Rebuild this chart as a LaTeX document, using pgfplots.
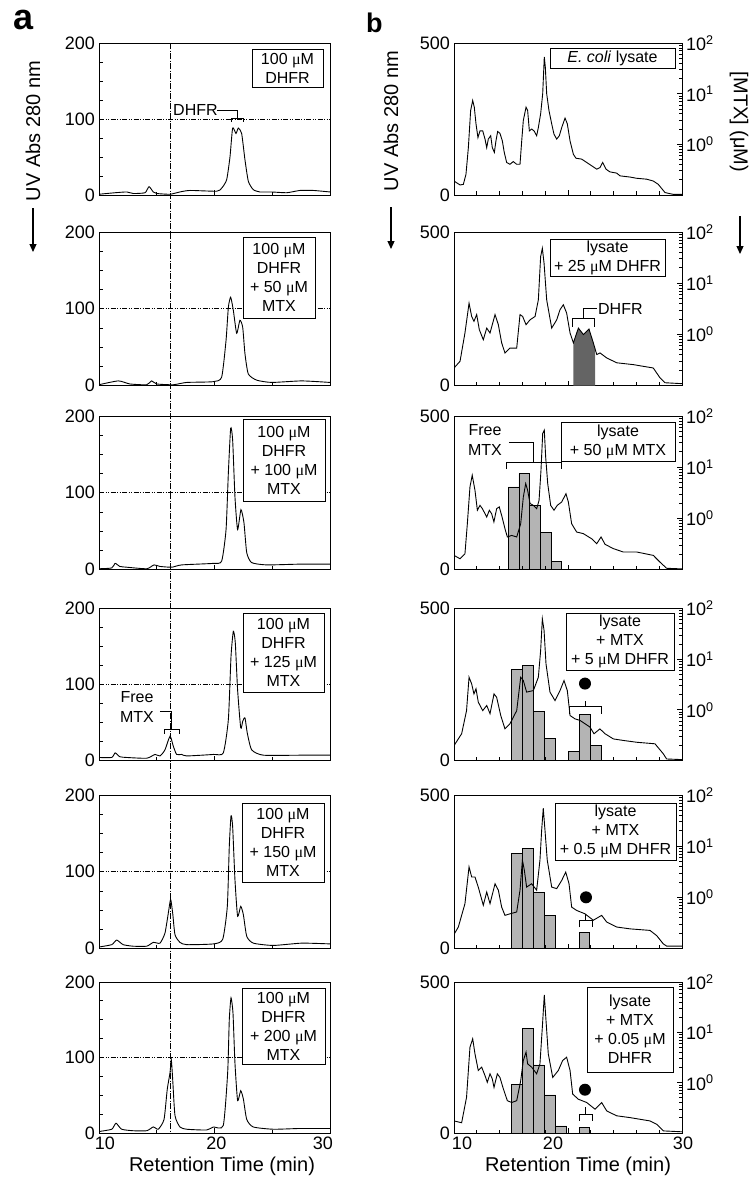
\documentclass[border=0pt]{standalone}
\usepackage{pgfplots}
\pgfplotsset{compat=1.18}
\usepackage{fontspec}
\setmainfont{Liberation Sans}
\newfontfamily\serifmu{Liberation Serif}
\usetikzlibrary{arrows.meta}
\newcommand{\mum}{{\serifmu μ}M}
\newcommand{\ann}{\fontsize{16}{20}\selectfont}
\definecolor{barfill}{RGB}{180,180,180}
\definecolor{dhfrgray}{RGB}{100,100,100}
\pgfplotsset{
  base/.style={scale only axis, xmin=10, xmax=30, anchor=north west, tick align=inside,
    axis line style={line width=0.9pt}, every tick/.style={black,line width=0.8pt},
    major tick length=5pt, minor tick length=3.5pt,
    tick label style={font=\fontsize{18}{18}\selectfont, inner sep=2pt},
    yticklabel style={inner sep=4pt},
    xtick pos=bottom},
  lp/.style={base, width=231pt, ymin=0, ymax=200, xtick={10,20,30}, minor xtick={15,25},
    xticklabels={,,}, ytick={0,100,200}, yticklabels={0,100,200},
    minor ytick={25,50,75,125,150,175}, ytick pos=left},
  rp/.style={base, width=228pt, ymin=0, ymax=500, xtick={10,20,30}, minor xtick={12,14,16,18,22,24,26,28},
    xticklabels={,,}, ytick={0,500}, yticklabels={0,500}, ytick pos=left, ytick style={draw=none}},
  rlog/.style={base, width=228pt, ymin=0.1, ymax=100, log origin y=infty, xtick=\empty,
    ytick pos=right, ytick={1,10,100},
    yticklabels={10\textsuperscript{0},10\textsuperscript{1},10\textsuperscript{2}},
    minor ytick={0.2,0.3,0.4,0.5,0.6,0.7,0.8,0.9,2,3,4,5,6,7,8,9,20,30,40,50,60,70,80,90},
    yticklabel style={inner sep=4pt}},
  trace/.style={black, line width=0.9pt, no marks},
  ltrace/.style={black, line width=0.9pt, no marks, smooth, tension=0.35},
  bars/.style={ybar interval, fill=barfill, draw=black, line width=0.8pt},
}
\tikzset{
  hl/.style={line width=0.6pt, dash pattern=on 5pt off 1.5pt on 1pt off 1.5pt on 1pt off 1.5pt},
  vl/.style={line width=0.6pt, dash pattern=on 6pt off 1.5pt on 1pt off 1.5pt},
  br/.style={line width=0.7pt},
  box/.style={draw, fill=white, line width=0.9pt, align=center, inner sep=1pt, font=\fontsize{16}{19}\selectfont},
}
\begin{document}
\begin{tikzpicture}
\path[use as bounding box] (0pt,0pt) rectangle (750pt,-1179pt);

% ---------------- column a ----------------
\begin{axis}[lp, at={(99pt,-43pt)}, height=152pt]
\draw[hl] (axis cs:10,100) -- (axis cs:30,100);
\addplot[ltrace] coordinates {(10,1)(11.4,3)(12.4,4)(12.97,2)(13.98,3)(14.33,11)(14.7,4)(14.99,2)(16.15,1)(17.0,4)(17.88,6)(20.19,5)(20.62,9)(21.05,20)(21.34,50)(21.57,88)(21.86,81)(22.06,88)(22.35,81)(22.64,46)(22.93,18)(23.36,7)(23.94,4)(24.95,4)(26.25,3)(27.4,6)(28.55,6)(30,4)};
\coordinate (vtop) at (axis cs:16.2,200);
\node[anchor=west, font=\ann, inner sep=0] at (axis cs:16.41,111.9) {DHFR};
\draw[br] (axis cs:20.22,111.9) -- (axis cs:21.95,111.9) -- (axis cs:21.95,101.3);
\draw[br] (axis cs:21.43,96) -- (axis cs:21.43,101.3) -- (axis cs:22.47,101.3) -- (axis cs:22.47,96);
\end{axis}

\begin{axis}[lp, at={(99pt,-232pt)}, height=153.5pt]
\draw[hl] (axis cs:10,100) -- (axis cs:30,100);
\addplot[ltrace] coordinates {(10,1)(11.67,6)(12.68,2)(14.13,1)(14.56,6)(15.0,2)(16.43,1)(17.59,4)(19.9,5)(20.62,11)(21.0,59)(21.2,102)(21.4,115)(21.63,98)(21.92,68)(22.2,85)(22.44,76)(22.64,41)(22.93,15)(23.65,7)(24.95,4)(27.55,6)(30,4)};
\end{axis}

\begin{axis}[lp, at={(99pt,-416pt)}, height=153.5pt]
\draw[hl] (axis cs:10,100) -- (axis cs:30,100);
\addplot[ltrace] coordinates {(10,1)(11.1,2)(11.4,8)(11.8,4)(12.4,3)(14.13,1)(14.76,6)(15.28,4)(16.3,3)(17.16,6)(19.9,8)(20.62,11)(21.0,52)(21.2,126)(21.4,184)(21.57,169)(21.77,95)(22.0,52)(22.29,78)(22.55,61)(22.79,22)(23.22,9)(24.52,6)(27.4,7)(30,7)};
\end{axis}

\begin{axis}[lp, at={(99pt,-608.5pt)}, height=152pt]
\draw[hl] (axis cs:10,100) -- (axis cs:30,100);
\addplot[ltrace] coordinates {(10,4)(11.1,4)(11.4,10)(11.8,5)(12.4,4)(14.13,3)(14.85,8)(15.28,6)(15.71,14)(16.15,32)(16.43,19)(16.72,8)(17.16,8)(17.59,6)(19.9,8)(20.76,10)(21.2,54)(21.43,137)(21.63,170)(21.8,155)(22.0,93)(22.27,43)(22.45,52)(22.64,56)(22.84,36)(23.22,14)(24.23,7)(27.4,7)(30,7)};
\node[align=center, font=\ann] at (axis cs:13.29,71) {Free\\MTX};
\draw[br] (axis cs:15.28,64.5) -- (axis cs:16.23,64.5) -- (axis cs:16.23,40.8);
\draw[br] (axis cs:15.63,35.5) -- (axis cs:15.63,40.8) -- (axis cs:16.93,40.8) -- (axis cs:16.93,35.5);
\end{axis}

\begin{axis}[lp, at={(99pt,-795pt)}, height=153.5pt]
\draw[hl] (axis cs:10,100) -- (axis cs:30,100);
\addplot[ltrace] coordinates {(10,2)(11.1,5)(11.53,11)(12.1,5)(12.97,3)(14.13,3)(14.7,8)(15.28,7)(15.71,20)(16.0,46)(16.2,64)(16.38,46)(16.58,18)(17.01,8)(17.59,5)(19.9,6)(20.71,12)(21.11,55)(21.28,133)(21.43,173)(21.57,159)(21.77,90)(22.0,42)(22.27,55)(22.5,44)(22.79,16)(23.36,7)(25.09,4)(27.55,7)(30,6)};
\end{axis}

\begin{axis}[lp, at={(99pt,-982pt)}, height=151pt,
  xticklabels={\hspace{12pt}10,\hspace{4pt}20,30\hspace{14pt}\mbox{}}, xticklabel style={yshift=-2pt}]
\draw[hl] (axis cs:10,100) -- (axis cs:30,100);
\addplot[ltrace] coordinates {(10,2)(11.1,5)(11.47,13)(11.96,5)(12.97,3)(14.13,3)(14.7,8)(15.13,5)(15.63,18)(15.91,58)(16.15,80)(16.26,97)(16.38,71)(16.58,23)(17.01,8)(17.59,5)(19.32,4)(19.9,8)(20.76,10)(21.14,80)(21.28,150)(21.43,179)(21.6,159)(21.77,93)(22.0,43)(22.27,56)(22.5,45)(22.79,18)(23.36,8)(25.09,5)(27.4,6)(30,6)};
\coordinate (vbot) at (axis cs:16.2,0);
\end{axis}

% ---------------- column b ----------------
% b1
\begin{axis}[ymode=log, rlog, at={(454pt,-43pt)}, height=152pt]
\addplot[draw=none] coordinates {(10,1)};
\end{axis}
\begin{axis}[rp, at={(454pt,-43pt)}, height=152pt]
\addplot[trace] coordinates {(10,46)(10.53,33)(10.82,35)(11.05,68)(11.26,156)(11.46,278)(11.64,311)(11.78,289)(11.93,234)(12.1,189)(12.28,211)(12.52,211)(12.72,184)(12.87,156)(13.01,184)(13.22,195)(13.36,156)(13.54,140)(13.68,178)(13.83,209)(14.03,203)(14.24,178)(14.41,140)(14.62,107)(14.91,101)(15.2,110)(15.5,101)(15.79,101)(15.94,178)(16.08,245)(16.32,289)(16.46,278)(16.61,211)(16.81,217)(17.02,211)(17.25,195)(17.4,222)(17.6,267)(17.78,333)(17.92,454)(18.01,421)(18.13,333)(18.33,278)(18.57,234)(18.77,200)(19.01,184)(19.24,195)(19.45,222)(19.74,253)(19.94,234)(20.18,178)(20.47,134)(20.7,121)(21.2,118)(21.64,107)(22.08,96)(22.52,85)(22.8,90)(23.04,107)(23.33,85)(23.68,76)(24.27,72)(24.56,63)(25.44,59)(26.02,55)(26.9,52)(27.48,46)(27.92,35)(28.51,8)(29.24,2)(30,2)};
\end{axis}

% b2
\begin{axis}[ymode=log, rlog, at={(454pt,-232pt)}, height=153.5pt]
\addplot[draw=none] coordinates {(10,1)};
\end{axis}
\begin{axis}[rp, at={(454pt,-232pt)}, height=153.5pt]
\addplot[fill=dhfrgray, draw=none] coordinates {(20.47,0)(20.47,139)(20.91,187)(21.35,166)(21.84,184)(22.22,139)(22.37,120)(22.37,0)} -- cycle;
\addplot[trace] coordinates {(10,57)(10.53,79)(10.96,171)(11.32,268)(11.55,225)(11.75,209)(11.99,231)(12.22,182)(12.57,149)(12.87,187)(13.16,171)(13.6,231)(13.89,198)(14.18,139)(14.47,106)(14.91,122)(15.5,122)(15.79,231)(16.02,225)(16.32,198)(16.67,214)(17.11,225)(17.4,279)(17.6,420)(17.75,447)(17.9,398)(18.13,279)(18.57,187)(19.01,214)(19.3,247)(19.59,263)(19.88,236)(20.18,171)(20.47,139)(20.91,187)(21.35,166)(21.84,184)(22.22,139)(22.52,101)(22.81,106)(23.39,90)(24.27,74)(25.73,68)(27.48,57)(28.07,25)(28.51,9)(30,6)};
\node[anchor=west, font=\ann, inner sep=0] at (axis cs:22.63,250) {DHFR};
\draw[br] (axis cs:21.32,217.5) -- (axis cs:21.32,250) -- (axis cs:22.5,250);
\draw[br] (axis cs:20.35,191.6) -- (axis cs:20.35,217.5) -- (axis cs:22.28,217.5) -- (axis cs:22.28,191.6);
\end{axis}

% b3
\begin{axis}[ymode=log, rlog, at={(454pt,-416pt)}, height=153.5pt]
\addplot[bars] coordinates {(14.76,4.1)(15.70,7.5)(16.61,1.8)(17.54,0.54)(18.51,0.146)(19.39,0.146)};
\end{axis}
\begin{axis}[rp, at={(454pt,-416pt)}, height=153.5pt]
\addplot[trace] coordinates {(10,46)(10.53,35)(10.96,51)(11.17,149)(11.4,269)(11.6,307)(11.84,258)(12.05,193)(12.28,209)(12.49,198)(12.72,182)(12.87,171)(13.1,193)(13.3,182)(13.5,155)(13.74,198)(13.97,204)(14.18,176)(14.47,133)(14.68,106)(15.06,111)(15.5,106)(15.85,149)(16.08,236)(16.29,280)(16.46,258)(16.67,215)(16.96,209)(17.25,198)(17.46,225)(17.63,323)(17.78,443)(17.92,454)(18.04,367)(18.22,280)(18.48,209)(18.77,193)(19.06,209)(19.45,220)(19.82,247)(20.03,220)(20.32,149)(20.76,122)(21.34,117)(22.08,100)(22.52,84)(22.9,106)(23.25,82)(23.98,68)(24.85,57)(26.03,57)(27.48,46)(28.07,24)(28.65,4)(30,2)};
\node[align=center, font=\ann] at (axis cs:12.72,421.6) {Free\\MTX};
\draw[br] (axis cs:14.82,415) -- (axis cs:16.93,415) -- (axis cs:16.93,349.7);
\draw[br] (axis cs:14.56,326.8) -- (axis cs:14.56,349.7) -- (axis cs:19.39,349.7) -- (axis cs:19.39,326.8);
\end{axis}

% b4
\begin{axis}[ymode=log, rlog, at={(454pt,-608.5pt)}, height=152pt]
\addplot[bars] coordinates {(15.06,6.3)(16.02,7.5)(16.95,0.94)(17.92,0.27)(18.92,0.27)};
\addplot[bars] coordinates {(20.03,0.15)(21.0,0.80)(21.93,0.2)(22.9,0.2)};
\end{axis}
\begin{axis}[rp, at={(454pt,-608.5pt)}, height=152pt]
\addplot[trace] coordinates {(10,49)(10.67,88)(11.1,164)(11.32,274)(11.55,252)(11.75,219)(11.93,236)(12.13,192)(12.52,164)(12.87,181)(13.16,154)(13.51,219)(13.74,208)(14.1,148)(14.47,104)(14.91,121)(15.5,164)(15.85,274)(16.08,263)(16.37,225)(16.96,230)(17.4,274)(17.6,362)(17.75,466)(17.9,428)(18.07,318)(18.42,225)(18.86,197)(19.3,230)(19.65,263)(19.94,230)(20.18,148)(20.61,137)(21.05,132)(21.49,121)(21.93,110)(22.28,88)(22.8,104)(23.25,88)(23.98,71)(24.85,66)(26.03,60)(27.63,55)(28.36,22)(28.65,5)(30,3)};
\fill (axis cs:21.49,253) circle[radius=6pt];
\draw[br] (axis cs:20.09,154.6) -- (axis cs:20.09,177.6) -- (axis cs:22.89,177.6) -- (axis cs:22.89,154.6);
\draw[br] (axis cs:21.49,177.6) -- (axis cs:21.49,197.3);
\end{axis}

% b5
\begin{axis}[ymode=log, rlog, at={(454pt,-795pt)}, height=153.5pt]
\addplot[bars] coordinates {(15.06,7.2)(15.99,9.0)(16.96,1.27)(17.92,0.44)(18.92,0.44)};
\addplot[bars] coordinates {(21.0,0.21)(21.88,0.21)};
\end{axis}
\begin{axis}[rp, at={(454pt,-795pt)}, height=153.5pt]
\addplot[trace] coordinates {(10,46)(10.38,70)(10.96,146)(11.32,266)(11.55,233)(11.84,233)(12.13,200)(12.57,141)(12.87,184)(13.16,146)(13.6,211)(13.89,190)(14.18,135)(14.47,108)(14.91,113)(15.5,119)(15.79,190)(16,288)(16.17,255)(16.37,200)(16.81,211)(17.25,190)(17.54,288)(17.69,386)(17.83,457)(17.98,386)(18.18,288)(18.57,200)(19.01,195)(19.45,222)(19.8,249)(20.09,211)(20.32,135)(20.76,124)(21.49,113)(22.22,92)(22.95,108)(23.4,86)(24.27,70)(25.44,64)(27.19,59)(27.78,42)(28.36,15)(28.65,8)(30,8)};
\fill (axis cs:21.58,166.7) circle[radius=6pt];
\draw[br] (axis cs:20.96,68.6) -- (axis cs:20.96,91.5) -- (axis cs:22.1,91.5) -- (axis cs:22.1,68.6);
\draw[br] (axis cs:21.53,91.5) -- (axis cs:21.53,111);
\end{axis}

% b6
\begin{axis}[ymode=log, rlog, at={(454pt,-982pt)}, height=151pt]
\addplot[bars] coordinates {(15.06,0.94)(15.99,11.8)(16.96,2.25)(17.89,0.57)(18.92,0.138)(19.88,0.138)};
\addplot[bars] coordinates {(21.0,0.128)(21.88,0.128)};
\end{axis}
\begin{axis}[rp, at={(454pt,-982pt)}, height=151pt,
  xticklabels={\hspace{16pt}10,20\hspace{30pt}\mbox{},\hspace{2pt}30}, xticklabel style={yshift=-2pt}]
\addplot[trace] coordinates {(10,40)(10.67,34)(11.1,118)(11.4,284)(11.64,312)(11.84,262)(12.13,207)(12.43,218)(12.72,190)(12.92,168)(13.16,196)(13.36,179)(13.51,151)(13.8,196)(14.03,184)(14.33,146)(14.68,107)(15.06,101)(15.5,107)(15.85,173)(16.08,240)(16.32,268)(16.46,229)(16.81,218)(17.25,196)(17.54,229)(17.75,351)(17.92,457)(18.07,373)(18.27,262)(18.66,184)(19.15,207)(19.53,240)(19.88,251)(20.18,207)(20.41,129)(20.9,112)(21.64,101)(22.37,79)(22.95,101)(23.4,73)(24.27,57)(25.44,51)(27.19,40)(27.78,29)(28.36,7)(30,4)};
\fill (axis cs:21.49,143.3) circle[radius=6pt];
\draw[br] (axis cs:20.96,40) -- (axis cs:20.96,63.3) -- (axis cs:22.1,63.3) -- (axis cs:22.1,40);
\draw[br] (axis cs:21.53,63.3) -- (axis cs:21.53,86.7);
\end{axis}

% vertical reference line through column a
\draw[vl] (vtop) -- (vbot);

% boxes
\node[box, minimum width=71pt, minimum height=38pt] at (287.5pt,-68pt) {100 \mum\\DHFR};
\node[box, minimum width=72pt, minimum height=81pt] at (279pt,-277.5pt) {100 \mum\\DHFR\\+ 50 \mum\\MTX};
\node[box, minimum width=82pt, minimum height=82pt] at (284pt,-460pt) {100 \mum\\DHFR\\+ 100 \mum\\MTX};
\node[box, minimum width=81pt, minimum height=79pt] at (283.5pt,-652.5pt) {100 \mum\\DHFR\\+ 125 \mum\\MTX};
\node[box, minimum width=82pt, minimum height=79pt] at (283pt,-842.5pt) {100 \mum\\DHFR\\+ 150 \mum\\MTX};
\node[box, minimum width=83pt, minimum height=76pt] at (283.5pt,-1026pt) {100 \mum\\DHFR\\+ 200 \mum\\MTX};
\node[box, minimum width=125pt, minimum height=20pt] at (612.5pt,-58pt) {\textit{E. coli} lysate};
\node[box, minimum width=115pt, minimum height=37pt] at (607.5pt,-257.5pt) {lysate\\+ 25 \mum{} DHFR};
\node[box, minimum width=114pt, minimum height=39pt] at (618pt,-441.5pt) {lysate\\+ 50 \mum{} MTX};
\node[box, minimum width=108pt, minimum height=57pt] at (620pt,-641.5pt) {lysate\\+ MTX\\+ 5 \mum{} DHFR};
\node[box, minimum width=121pt, minimum height=57pt] at (615.5pt,-831.5pt) {lysate\\+ MTX\\+ 0.5 \mum{} DHFR};
\node[box, minimum width=86pt, minimum height=85pt] at (630pt,-1029.5pt) {lysate\\+ MTX\\+ 0.05 \mum\\DHFR};

% panel letters and axis titles
\node[font=\fontsize{36}{36}\selectfont\bfseries, anchor=base west, inner sep=0] at (13pt,-29pt) {a};
\node[font=\fontsize{27}{27}\selectfont\bfseries, anchor=base west, inner sep=0] at (366pt,-32pt) {b};
\node[rotate=90, font=\fontsize{20}{20}\selectfont] at (33pt,-131pt) {UV Abs 280 nm};
\draw[line width=1.2pt, -{Triangle[length=8pt,width=7pt]}] (33pt,-208pt) -- (33pt,-252pt);
\node[rotate=90, font=\fontsize{20}{20}\selectfont] at (391pt,-121pt) {UV Abs 280 nm};
\draw[line width=1.2pt, -{Triangle[length=8pt,width=7pt]}] (391pt,-207pt) -- (391pt,-249pt);
\node[rotate=-90, font=\fontsize{20}{20}\selectfont] at (739pt,-122pt) {[MTX] (μM)};
\draw[line width=1.2pt, -{Triangle[length=8pt,width=7pt]}] (740pt,-216pt) -- (740pt,-254pt);
\node[font=\fontsize{20}{20}\selectfont] at (222pt,-1166pt) {Retention Time (min)};
\node[font=\fontsize{20}{20}\selectfont] at (578pt,-1166pt) {Retention Time (min)};
\end{tikzpicture}
\end{document}
